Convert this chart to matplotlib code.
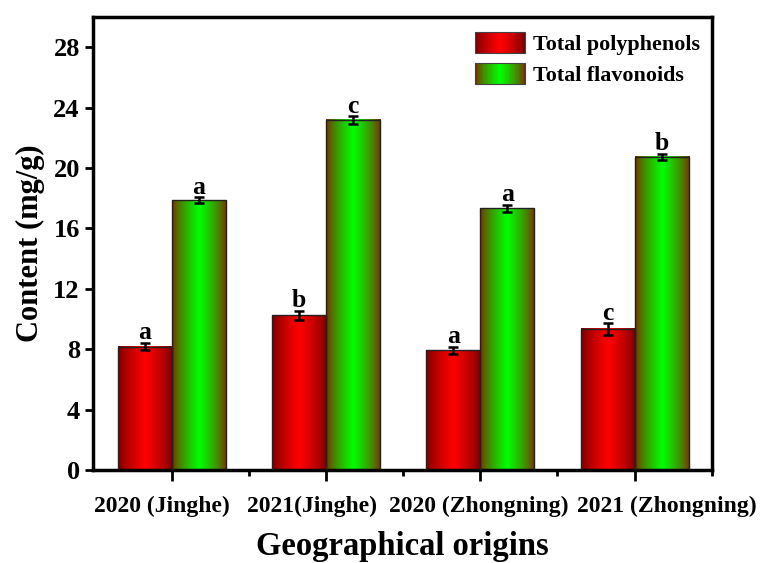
import numpy as np
import matplotlib
matplotlib.use("Agg")
import matplotlib.pyplot as plt
import matplotlib.transforms as mtrans
from matplotlib.patches import Rectangle
from matplotlib.legend_handler import HandlerBase
from matplotlib.ticker import FixedLocator

plt.rcParams['font.family'] = 'Liberation Serif'
plt.rcParams['font.weight'] = 'bold'

# datos
origins = ["2020 (Jinghe)", "2021(Jinghe)", "2020 (Zhongning)", "2021 (Zhongning)"]
polyphenols = [8.18, 10.24, 7.92, 9.34]
poly_err = [0.25, 0.32, 0.25, 0.38]
poly_letters = ["a", "b", "a", "c"]
flavonoids = [17.85, 23.18, 17.33, 20.72]
flav_err = [0.2, 0.25, 0.22, 0.22]
flav_letters = ["a", "c", "a", "b"]

red_edge, red_mid = np.array([0.45, 0.0, 0.0]), np.array([1.0, 0.0, 0.0])
grn_edge, grn_mid = np.array([0.5, 0.15, 0.0]), np.array([0.0, 1.0, 0.0])


def gradiente(edge, mid, n=64):
    u = np.linspace(0, 1, n)
    t = (1 - np.abs(2 * u - 1)) ** 0.7
    return edge[None, :] + (mid - edge)[None, :] * t[:, None]


class HandlerGrad(HandlerBase):
    def __init__(self, edge, mid):
        super().__init__()
        self.edge, self.mid = edge, mid

    def create_artists(self, legend, orig, xd, yd, w, h, fs, trans):
        n = 30
        cols = gradiente(self.edge, self.mid, n)
        arts = []
        for i, c in enumerate(cols):
            arts.append(Rectangle((-xd + w * i / n, -yd), w / n * 1.05, h, facecolor=c,
                                  edgecolor='none', transform=trans))
        arts.append(Rectangle((-xd, -yd), w, h, facecolor='none', edgecolor='#444444',
                              lw=0.8, transform=trans))
        return arts


fig = plt.figure(figsize=(7.62, 5.63), dpi=100)
ax = fig.add_axes([0.122, 0.165, 0.812, 0.805])

x = np.arange(len(origins))
w = 0.35

def barras(xs, vals, errs, letters, edge, mid):
    img = gradiente(edge, mid)[None, :, :]
    bars = ax.bar(xs, vals, w, facecolor='none', edgecolor='#222222', lw=1, zorder=3)
    for b in bars:
        ax.imshow(img, extent=(b.get_x(), b.get_x() + b.get_width(), 0, b.get_height()),
                  aspect='auto', zorder=2, interpolation='bilinear')
    ax.errorbar(xs, vals, yerr=errs, fmt='none', ecolor='black', elinewidth=1.8,
                capsize=3.8, capthick=1.8, zorder=4)
    for xi, v, e, l in zip(xs, vals, errs, letters):
        ax.text(xi, v + e - 0.1, l, ha='center', va='bottom', fontsize=18.5,
                fontweight='bold', zorder=5)

barras(x - w / 2, polyphenols, poly_err, poly_letters, red_edge, red_mid)
barras(x + w / 2, flavonoids, flav_err, flav_letters, grn_edge, grn_mid)

ax.set_xlim(-0.51, 3.5)
ax.set_ylim(0, 30)
ax.set_yticks(np.arange(0, 29, 4))
ax.set_xticks(x)
ax.set_xticklabels([])
# las etiquetas del original no estan centradas en los ticks
desplaz = [-9.5, -14, -1.5, 32.5]
trans_x = ax.get_xaxis_transform()
for xi, lab, d in zip(x, origins, desplaz):
    tr = mtrans.offset_copy(trans_x, fig=fig, x=d, y=-36, units='dots')
    ax.text(xi, 0, lab, transform=tr, ha='center', va='center', fontsize=17,
            fontweight='bold', clip_on=False)
ax.xaxis.set_minor_locator(FixedLocator([0.5, 1.5, 2.5, 3.5]))
ax.tick_params(axis='y', labelsize=19, width=2, length=6)
ax.tick_params(axis='x', which='major', width=2, length=8)
ax.tick_params(axis='x', which='minor', width=2, length=4)
for s in ax.spines.values():
    s.set_linewidth(2.5)

ax.set_ylabel("Content (mg/g)", fontsize=22, fontweight='bold', labelpad=6)
ax.set_xlabel("Geographical origins", fontsize=23.5, fontweight='bold', labelpad=32)

h1 = Rectangle((0, 0), 1, 1)
h2 = Rectangle((0, 0), 1, 1)
ax.legend([h1, h2], ["Total polyphenols", "Total flavonoids"], loc='upper right',
          frameon=False, fontsize=15.8, handlelength=2.3, handleheight=1.1,
          handletextpad=0.35, borderaxespad=0.3, bbox_to_anchor=(1.006, 1.0),
          labelspacing=0.35,
          handler_map={h1: HandlerGrad(red_edge, red_mid), h2: HandlerGrad(grn_edge, grn_mid)})

fig.savefig("out.png", dpi=100)
